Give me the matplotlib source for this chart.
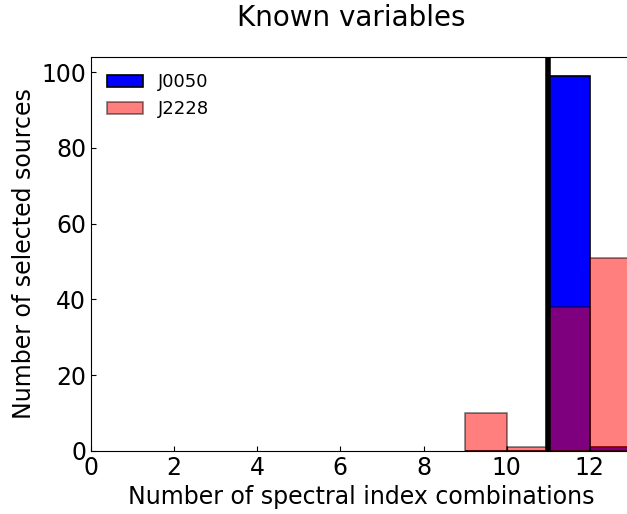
import matplotlib
matplotlib.use("Agg")
import matplotlib.pyplot as plt

bin_edges = [9, 10, 11, 12]
j0050_counts = [0, 0, 99, 1]
j2228_counts = [10, 1, 38, 51]
threshold = 11

fig = plt.figure(figsize=(6.27, 5.14), dpi=100)
ax = fig.add_axes([0.145, 0.1226, 0.862, 0.7664])

ax.bar(bin_edges, j0050_counts, width=1, align='edge', color='blue',
       edgecolor='black', linewidth=1.2, label='J0050')
ax.bar(bin_edges, j2228_counts, width=1, align='edge', color='red',
       edgecolor='black', linewidth=1.2, alpha=0.5, label='J2228')
ax.axvline(threshold, color='black', linewidth=4)

ax.set_xlim(0, 13)
ax.set_ylim(0, 104)
ax.set_xticks([0, 2, 4, 6, 8, 10, 12])
ax.set_yticks([0, 20, 40, 60, 80, 100])
ax.tick_params(direction='in', labelsize=17)
ax.set_xlabel('Number of spectral index combinations', fontsize=17)
ax.set_ylabel('Number of selected sources', fontsize=17)
fig.text(0.56, 0.965, 'Known variables', fontsize=20, ha='center', va='center')
ax.legend(loc='upper left', frameon=False, fontsize=13)

fig.savefig('out.png', dpi=100)
